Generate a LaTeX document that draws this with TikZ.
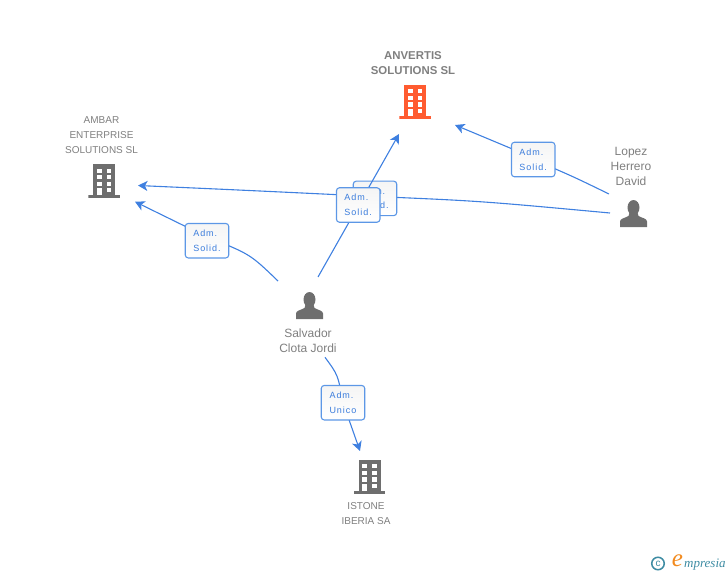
\documentclass[tikz,border=0pt]{standalone}
\usepackage{fontspec}
\setmainfont{Liberation Sans}
\newfontfamily\labfont[LetterSpace=11]{Liberation Sans}
\newfontfamily\logofont{Liberation Serif}
\usetikzlibrary{arrows.meta,calc}
\pgfdeclarelayer{lowlines}
\pgfdeclarelayer{backlabel}
\pgfdeclarelayer{midlines}
\pgfsetlayers{lowlines,backlabel,midlines,main}
\definecolor{linkblue}{HTML}{3F80E0}
\definecolor{labborder}{HTML}{5C97E6}
\definecolor{labtext}{HTML}{3A7CDC}
\definecolor{icongrey}{HTML}{6E6E6E}
\definecolor{textgrey}{HTML}{7F7F7F}
\definecolor{mainorange}{HTML}{FF5B30}
\definecolor{logoteal}{HTML}{3E8CA3}
\definecolor{logoorange}{HTML}{F28A1E}
\newcommand{\bldgicon}[1]{%
  \fill[#1] (-11pt,-16.85pt) rectangle (11pt,16.85pt);
  \fill[#1] (-15.75pt,-16.85pt) rectangle (15.75pt,-14.15pt);
  \foreach \yt/\yb in {12.55/8.55,6.15/1.85,-0.45/-4.85}{
    \fill[white] (-7.2pt,\yt pt) rectangle (-2.6pt,\yb pt);
    \fill[white] (2.4pt,\yt pt) rectangle (7pt,\yb pt);
  }
  \fill[white] (-7.2pt,-7.15pt) rectangle (-2.6pt,-14.15pt);
  \fill[white] (2.4pt,-7.15pt) rectangle (7pt,-11.15pt);
}
\newcommand{\persicon}{%
  \fill[icongrey] (0pt,5.9pt) ellipse (6pt and 7.6pt);
  \fill[icongrey] (-13.5pt,-13.5pt) -- (-13.5pt,-8pt)
    .. controls (-13.5pt,-5pt) and (-8.5pt,-4.5pt) .. (-5pt,-2.5pt)
    -- (-4pt,1pt) -- (4pt,1pt) -- (5pt,-2.5pt)
    .. controls (8.5pt,-4.5pt) and (13.5pt,-5pt) .. (13.5pt,-8pt)
    -- (13.5pt,-13.5pt) -- cycle;
}
\tikzset{
  x=1pt,y=-1pt,
  link/.style={draw=linkblue,line width=1.1pt,-{Stealth[length=9.5pt,width=10pt,inset=2.6pt]}},
  rolelabel/.style={draw=labborder,line width=1.1pt,rounded corners=3pt,top color=gray!8,bottom color=white,
    minimum width=43.5pt,minimum height=34.5pt,inner sep=0pt,align=left,text=labtext,
    font=\labfont\fontsize{9}{14.7}\selectfont},
  caption/.style={align=center,text=textgrey,inner sep=0pt,font=\fontsize{10}{15}\selectfont},
  personcaption/.style={caption,font=\fontsize{12}{15}\selectfont},
  maincaption/.style={caption,font=\bfseries\fontsize{11.4}{15}\selectfont},
  bldgnode/.style={inner sep=0pt,outer sep=0pt,minimum width=31.6pt,minimum height=33.8pt,
    path picture={\begin{scope}[shift={(path picture bounding box.center)},x=1cm,y=1cm]\bldgicon{#1}\end{scope}}},
  persnode/.style={inner sep=0pt,outer sep=0pt,minimum width=27.2pt,minimum height=27.2pt,
    path picture={\begin{scope}[shift={(path picture bounding box.center)},x=1cm,y=1cm]\persicon\end{scope}}},
}
\begin{document}
\begin{tikzpicture}
\useasboundingbox (0,0) rectangle (728,575);
% icons and captions
\node[bldgnode=mainorange] (anvertis) at (415.2,101.9) {};
\node[bldgnode=icongrey] (ambar) at (104.2,181.2) {};
\node[bldgnode=icongrey] (istone) at (369.5,476.9) {};
\node[persnode] (salvador) at (309.5,305.5) {};
\node[persnode] (lopez) at (633.5,213.5) {};
\node[maincaption] (capanvertis) at (413,63.5) {ANVERTIS\\SOLUTIONS SL};
\node[caption] (capambar) at (101.5,135.5) {AMBAR\\ENTERPRISE\\SOLUTIONS SL};
\node[caption] (capistone) at (366,513.5) {ISTONE\\IBERIA SA};
\node[personcaption] (capsalvador) at (308,340.5) {Salvador\\Clota Jordi};
\node[personcaption] (caplopez) at (631,166) {Lopez\\Herrero\\David};
% role labels
\node[rolelabel] (rambar) at (207,240.7) {Adm.\\Solid.};
\node[rolelabel] (rright) at (533.2,159.5) {Adm.\\Solid.};
\begin{pgfonlayer}{backlabel}
\node[rolelabel] (rback) at (375,198.4) {Adm.\\Solid.};
\end{pgfonlayer}
\node[rolelabel] (rfront) at (358.2,205) {Adm.\\Solid.};
\node[rolelabel] (runico) at (343,402.7) {Adm.\\Unico};
% connector ends
\coordinate (s1) at (318,277);
\coordinate (t1) at (399,134);
\coordinate (s2) at (278,281);
\coordinate (t2) at (135,201.7);
\coordinate (s3) at (609,194);
\coordinate (t3) at (455,125);
\coordinate (s4) at (610,213);
\coordinate (t4) at (138,185.5);
\coordinate (s5) at (325,357.3);
\coordinate (t5) at (360,451);
% connectors
\begin{pgfonlayer}{lowlines}
\draw[link] (s4) .. controls (480,201) .. ($(rback.center)+(0,-1.9)$) .. controls (250,190.5) .. (t4);
\draw[link] (s3) .. controls (572,176) .. (rright.center) -- ($(rright.center)+(-22,-11)$) -- (t3);
\draw[link] (s2) .. controls (250,254) .. ($(rambar.center)+(0,-3.7)$) -- (t2);
\draw[link] (s5) .. controls (338,375) .. (runico.center) -- (t5);
\end{pgfonlayer}
\begin{pgfonlayer}{midlines}
\draw[link] (s1) -- (t1);
\end{pgfonlayer}
% logo
\node[draw=logoteal,line width=1.5pt,circle,minimum size=12.5pt,inner sep=0pt,text=logoteal,font=\fontsize{10}{10}\selectfont] (logoc) at (658,563.5) {c};
\node[text=logoorange,inner sep=0pt,font=\logofont\itshape\fontsize{25}{25}\selectfont] (logoe) at (677.5,561) {e};
\node[text=logoteal,inner sep=0pt,anchor=west,font=\logofont\itshape\fontsize{13}{13}\selectfont] (logot) at (684,564.5) {mpresia};
\end{tikzpicture}
\end{document}
